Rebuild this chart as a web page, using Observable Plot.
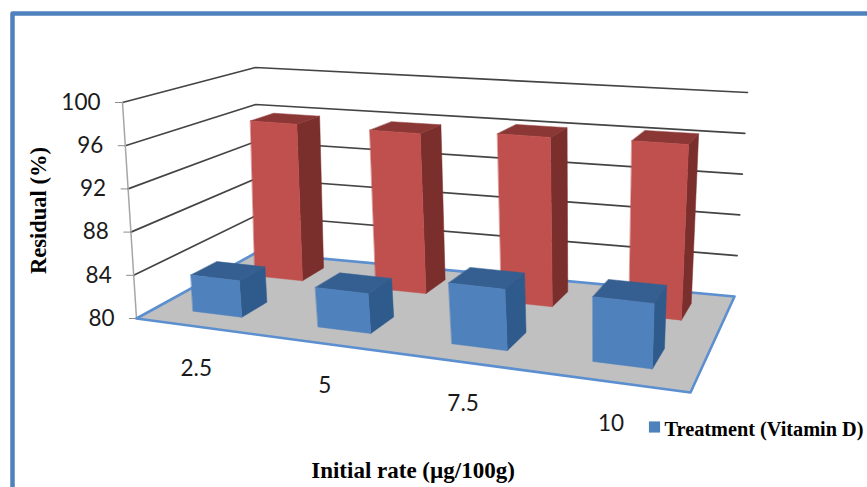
<!DOCTYPE html>
<html><head><meta charset="utf-8">
<style>html,body{margin:0;padding:0;background:#fff;overflow:hidden}svg{display:block}</style>
<script src="https://cdn.jsdelivr.net/npm/d3@7"></script>
<script src="https://cdn.jsdelivr.net/npm/@observablehq/plot@0.6"></script>
</head><body><div id="c"></div>
<script>
const categories = ["2.5","5","7.5","10"];
const treatment = [83.4,83.6,85.4,85.6];
const control = [95.8,95.7,96.2,96.4];
const yTicks = [80,84,88,92,96,100];
const xTitle = "Initial rate (µg/100g)";
const yTitle = "Residual (%)";
const legendLabel = "Treatment (Vitamin D)";

// chart box corners on screen: front-left, front-right, back-right, back-left
const floorQuad = [[136,318],[690,392],[734,296],[256,252]];
const topQuad = [[122,102],[703,150],[747,92],[255,67]];
function homography(q){
  const [[x0,y0],[x1,y1],[x2,y2],[x3,y3]] = q;
  const dx1=x1-x2,dx2=x3-x2,sx=x0-x1+x2-x3,dy1=y1-y2,dy2=y3-y2,sy=y0-y1+y2-y3;
  const d=dx1*dy2-dx2*dy1, g=(sx*dy2-dx2*sy)/d, h=(dx1*sy-sx*dy1)/d;
  const a=x1-x0+g*x1,b=x3-x0+h*x3,e=y1-y0+g*y1,f=y3-y0+h*y3;
  return (u,v)=>{const w=g*u+h*v+1;return [(a*u+b*v+x0)/w,(e*u+f*v+y0)/w];};
}
const hF=homography(floorQuad), hT=homography(topQuad);
function proj(u,v,val){
  const uw=u+(0.028+0.022*v)*Math.sin(Math.PI*u);
  const a=hF(uw,v),b=hT(uw,v),t=(val-80)/20;
  return [a[0]+(b[0]-a[0])*t,a[1]+(b[1]-a[1])*t];
}
const polys=[];let pid=0;
function poly(pts,fill,stroke,sw){const id=pid++;pts.forEach(p=>polys.push({x:p[0],y:p[1],id,fill,stroke:stroke||fill,sw:sw||0.5}));}
function bar(i,val,vc,cols){
  const hw=0.05,hd=0.1,uc=(i+.5)/4;
  const u0=uc-hw,u1=uc+hw,v0=vc-hd,v1=vc+hd;
  poly([proj(u1,v0,80),proj(u1,v1,80),proj(u1,v1,val),proj(u1,v0,val)],cols[1]);
  poly([proj(u0,v0,val),proj(u1,v0,val),proj(u1,v1,val),proj(u0,v1,val)],cols[2]);
  poly([proj(u0,v0,80),proj(u1,v0,80),proj(u1,v0,val),proj(u0,v0,val)],cols[0]);
}
poly(floorQuad,"#c0c0c0","#5b8fd0",2.6);
const red=["#c0504d","#7a2f2d","#8a3735"],blue=["#4f81bd","#2f5a8c","#355f91"];
control.forEach((v,i)=>bar(i,v,0.765,red));
treatment.forEach((v,i)=>bar(i,v,0.255,blue));

const grid=[];
yTicks.filter(t=>t>80).forEach(t=>{
  [[0,0],[0,1],[1,1]].forEach(([u,v])=>{const p=proj(u,v,t);grid.push({x:p[0],y:p[1],t});});
});
const axisLine=yTicks.map(t=>{const p=proj(0,0,t);return {x:p[0],y:p[1]};});
const tickMarks=yTicks.map(t=>{const p=proj(0,0,t);return {x1:p[0]-7,x2:p[0],y:p[1],t};});
const catLabels=categories.map((c,i)=>{const p=proj((i+.5)/4,0,80);return {x:p[0],y:p[1],c};});
const border=[{x:867,y:13},{x:12,y:13},{x:12,y:487}];

const serif="Liberation Serif", sans="Lato";
const plot=Plot.plot({
  width:867,height:487,margin:0,
  x:{type:"identity",axis:null},y:{type:"identity",axis:null},
  marks:[
    Plot.line(border,{x:"x",y:"y",stroke:"#4f81bd",strokeWidth:4.5,curve:"linear"}),
    Plot.line(grid,{x:"x",y:"y",z:"t",stroke:"#444",strokeWidth:1.7}),
    Plot.line(axisLine,{x:"x",y:"y",stroke:"#a6a6a6",strokeWidth:1.5}),
    Plot.ruleY(tickMarks,{x1:"x1",x2:"x2",y:"y",stroke:"#8c8c8c",strokeWidth:1}),
    ...d3.groups(polys,d=>d.id).map(([id,pts])=>Plot.line(pts,{x:"x",y:"y",fill:pts[0].fill,stroke:pts[0].stroke,strokeWidth:pts[0].sw,curve:"linear-closed"})),
    Plot.text(yTicks,{x:t=>proj(0,0,t)[0],y:t=>proj(0,0,t)[1],text:t=>String(t),textAnchor:"end",dx:-22,fontFamily:sans,fontSize:22.5,fill:"#1a1a1a"}),
    Plot.text(catLabels,{x:"x",y:"y",text:"c",dy:42,fontFamily:sans,fontSize:22.5,fill:"#1a1a1a"}),
    Plot.text([yTitle],{x:()=>38,y:()=>210,text:d=>d,rotate:-90,fontFamily:serif,fontWeight:"bold",fontSize:22.5,fill:"#000"}),
    Plot.text([xTitle],{x:()=>412.5,y:()=>470,text:d=>d,fontFamily:serif,fontWeight:"bold",fontSize:23,fill:"#000"}),
    Plot.dot([legendLabel],{x:()=>654,y:()=>426.5,symbol:"square",r:6.3,fill:"#4f81bd"}),
    Plot.text([legendLabel],{x:()=>664,y:()=>429,text:d=>d,textAnchor:"start",fontFamily:serif,fontWeight:"bold",fontSize:20.3,fill:"#000"})
  ]
});
document.getElementById("c").appendChild(plot);
</script></body></html>
